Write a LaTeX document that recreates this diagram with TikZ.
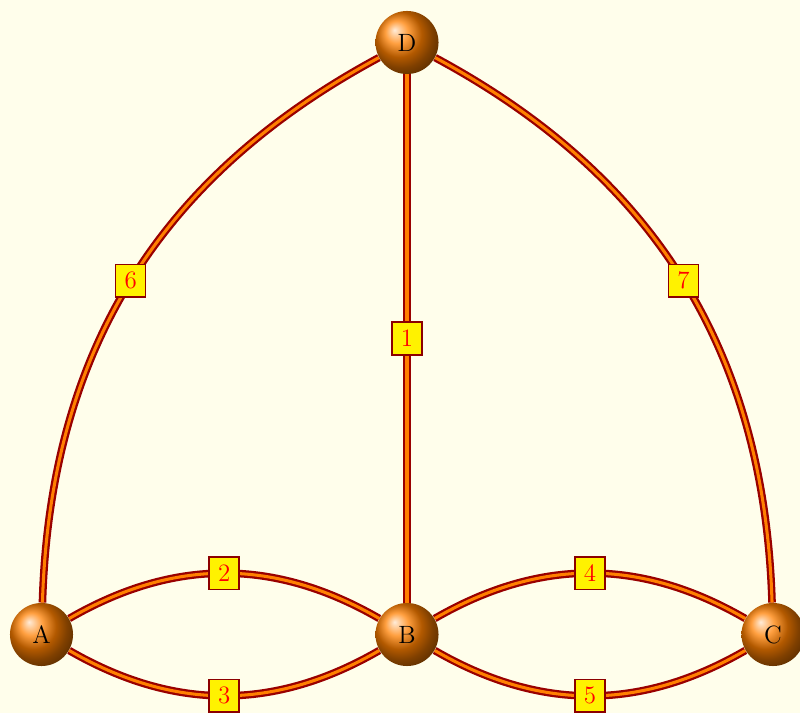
\documentclass[tikz,border=0pt]{standalone}
\usetikzlibrary{shadings}
\begin{document}
\begin{tikzpicture}[x=0.46pt,y=0.46pt,
  town/.style={circle,shading=ball,ball color=orange,minimum size=29pt,inner sep=0pt,text=black,font=\fontsize{11.5}{13}\selectfont},
  bridge/.style={draw=red!60!black,line width=1.05pt,double=orange,double distance=1.4pt},
  blabel/.style={fill=yellow,draw=red!55!black,line width=0.7pt,text=red,minimum width=13.8pt,minimum height=15pt,inner sep=1pt,font=\fontsize{11.5}{13}\selectfont}]
\useasboundingbox (0,0) rectangle (800,713);
\fill[yellow!8] (0,0) rectangle (800,713);
\node[town] (A) at (41.5,78.5) {A};
\node[town] (B) at (407,78.5) {B};
\node[town] (C) at (773,78.5) {C};
\node[town] (D) at (407,670.5) {D};
\draw[bridge] (D) -- node[blabel]{1} (B);
\draw[bridge] (A) to[bend left=30] node[blabel]{2} (B);
\draw[bridge] (A) to[bend right=30] node[blabel]{3} (B);
\draw[bridge] (B) to[bend left=30] node[blabel]{4} (C);
\draw[bridge] (B) to[bend right=30] node[blabel]{5} (C);
\draw[bridge] (D) to[bend right=30] node[blabel]{6} (A);
\draw[bridge] (D) to[bend left=30] node[blabel]{7} (C);
\end{tikzpicture}
\end{document}
